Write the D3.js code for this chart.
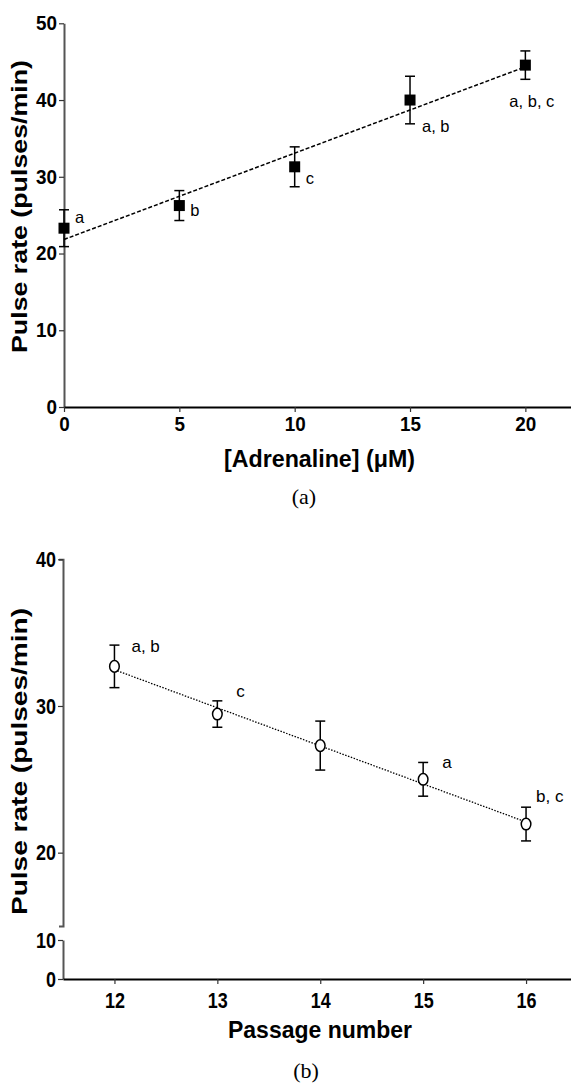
<!DOCTYPE html>
<html>
<head>
<meta charset="utf-8">
<script src="https://cdn.jsdelivr.net/npm/d3@7"></script>
<style>
  body { margin: 0; background: #fff; }
  svg { display: block; }
  .tick text { font-family: "Liberation Sans", Arial, sans-serif; font-weight: bold; fill: #000; }
</style>
</head>
<body>
<div id="app"></div>
<script>
// panel (a): adrenaline dose response
const adrenalineConc = [0, 5, 10, 15, 20];
const pulseRateA = [23.3, 26.25, 31.3, 40.0, 44.55];
const errorA = [2.4, 1.95, 2.6, 3.1, 1.85];
const lettersA = ["a", "b", "c", "a, b", "a, b, c"];
const xTicksA = [0, 5, 10, 15, 20];
const yTicksA = [0, 10, 20, 30, 40, 50];

// panel (b): passage number
const passageNum = [12, 13, 14, 15, 16];
const pulseRateB = [32.7, 29.45, 27.3, 25.0, 21.95];
const errorB = [1.45, 0.9, 1.67, 1.15, 1.15];
const lettersB = ["a, b", "c", "", "a", "b, c"];
const xTicksB = [12, 13, 14, 15, 16];
const yTicksBUpper = [20, 30, 40];
const yTicksBLower = [0, 10];

const width = 571, height = 1083;
const svg = d3.select('#app').append('svg')
    .attr('width', width).attr('height', height);

const SANS = '"Liberation Sans", Arial, sans-serif';
const SERIF = '"Liberation Serif", "Times New Roman", serif';

const fit = (xs, ys) => {
    const mx = d3.mean(xs), my = d3.mean(ys);
    const sxy = d3.sum(xs, (x, i) => (x - mx) * (ys[i] - my));
    const sxx = d3.sum(xs, x => (x - mx) * (x - mx));
    const slope = sxy / sxx;
    return x => my + slope * (x - mx);
};

// tick labels in the original are tall and narrow
const styleAxis = (g, lineColor, fontSize, charW) => {
    g.select('.domain').attr('stroke', lineColor).attr('stroke-width', 2);
    g.selectAll('.tick line').attr('stroke', '#333').attr('stroke-width', 1.2);
    g.selectAll('.tick text')
        .attr('font-size', fontSize)
        .attr('textLength', function () { return this.textContent.length * charW; })
        .attr('lengthAdjust', 'spacingAndGlyphs');
};

// ---------- panel (a) ----------
const xA = d3.scaleLinear().domain([0, 22]).range([64, 571.5]);
const yA = d3.scaleLinear().domain([0, 50]).range([407, 23.3]);
const gA = svg.append('g');

gA.append('g').attr('transform', `translate(${xA(0)},0)`)
    .call(d3.axisLeft(yA).tickValues(yTicksA).tickFormat(d3.format('d'))
        .tickSize(5).tickSizeOuter(0).tickPadding(2))
    .call(g => styleAxis(g, '#555', 20, 10.5));

gA.append('g').attr('transform', `translate(0,${yA(0)})`)
    .call(d3.axisBottom(xA).tickValues(xTicksA).tickFormat(d3.format('d'))
        .tickSize(5).tickSizeOuter(0).tickPadding(5))
    .call(g => styleAxis(g, '#000', 20, 10.5));

const lineA = fit(adrenalineConc, pulseRateA);
gA.append('line')
    .attr('x1', xA(0)).attr('y1', yA(lineA(0)))
    .attr('x2', xA(20)).attr('y2', yA(lineA(20)))
    .attr('stroke', '#000').attr('stroke-width', 1.5).attr('stroke-dasharray', '4,2');

const dataA = adrenalineConc.map((x, i) => ({ x, y: pulseRateA[i], e: errorA[i], t: lettersA[i] }));
const offA = [[11, -5], [11, 10], [11, 17], [12, 32], [-16, 42]];

const barsA = gA.selectAll('g.bar').data(dataA).join('g').attr('class', 'bar');
barsA.append('line')
    .attr('x1', d => xA(d.x)).attr('x2', d => xA(d.x))
    .attr('y1', d => yA(d.y - d.e)).attr('y2', d => yA(d.y + d.e));
barsA.selectAll('line.cap').data(d => [[d.x, d.y - d.e], [d.x, d.y + d.e]]).join('line')
    .attr('class', 'cap')
    .attr('x1', d => xA(d[0]) - 5).attr('x2', d => xA(d[0]) + 5)
    .attr('y1', d => yA(d[1])).attr('y2', d => yA(d[1]));
barsA.selectAll('line').attr('stroke', '#000').attr('stroke-width', 1.5);
barsA.append('rect')
    .attr('x', d => xA(d.x) - 5.5).attr('y', d => yA(d.y) - 5.5)
    .attr('width', 11).attr('height', 11).attr('fill', '#000');
barsA.append('text')
    .attr('x', (d, i) => xA(d.x) + offA[i][0])
    .attr('y', (d, i) => yA(d.y) + offA[i][1])
    .attr('font-family', SANS).attr('font-size', 16.5)
    .text(d => d.t);

gA.append('text')
    .attr('transform', 'translate(27,206.5) rotate(-90)')
    .attr('text-anchor', 'middle')
    .attr('font-family', SANS).attr('font-weight', 'bold')
    .attr('font-size', 21.5).attr('textLength', 293).attr('lengthAdjust', 'spacingAndGlyphs')
    .text('Pulse rate (pulses/min)');

gA.append('text')
    .attr('x', 319.5).attr('y', 467).attr('text-anchor', 'middle')
    .attr('font-family', SANS).attr('font-weight', 'bold')
    .attr('font-size', 24).attr('textLength', 191).attr('lengthAdjust', 'spacingAndGlyphs')
    .text('[Adrenaline] (\u03BCM)');

gA.append('text')
    .attr('x', 304).attr('y', 504).attr('text-anchor', 'middle')
    .attr('font-family', SERIF).attr('font-size', 22)
    .text('(a)');

// ---------- panel (b) ----------
const xB = d3.scaleLinear().domain([11.5, 16.5]).range([63, 577.5]);
const yB = d3.scaleLinear().domain([15, 40]).range([926, 559.3]);
const yBLow = d3.scaleLinear().domain([0, 10]).range([979, 940]);
const gB = svg.append('g');

gB.append('g').attr('transform', `translate(${xB(11.5)},0)`)
    .call(d3.axisLeft(yB).tickValues(yTicksBUpper).tickFormat(d3.format('d'))
        .tickSize(5).tickSizeOuter(4).tickPadding(2))
    .call(g => styleAxis(g, '#555', 22, 10));

gB.append('g').attr('transform', `translate(${xB(11.5)},0)`)
    .call(d3.axisLeft(yBLow).tickValues(yTicksBLower).tickFormat(d3.format('d'))
        .tickSize(5).tickSizeOuter(0).tickPadding(2))
    .call(g => styleAxis(g, '#555', 22, 10));

gB.append('g').attr('transform', `translate(0,${yBLow(0)})`)
    .call(d3.axisBottom(xB).tickValues(xTicksB).tickFormat(d3.format('d'))
        .tickSize(5).tickSizeOuter(0).tickPadding(8))
    .call(g => styleAxis(g, '#000', 22, 10));

const lineB = fit(passageNum, pulseRateB);
gB.append('line')
    .attr('x1', xB(12)).attr('y1', yB(lineB(12)))
    .attr('x2', xB(16)).attr('y2', yB(lineB(16)))
    .attr('stroke', '#000').attr('stroke-width', 1.3).attr('stroke-dasharray', '1.5,1.5');

const dataB = passageNum.map((x, i) => ({ x, y: pulseRateB[i], e: errorB[i], t: lettersB[i] }));
const offB = [[17, -14], [19, -17], [0, 0], [19, -11], [10, -22]];

const barsB = gB.selectAll('g.bar').data(dataB).join('g').attr('class', 'bar');
barsB.append('line')
    .attr('x1', d => xB(d.x)).attr('x2', d => xB(d.x))
    .attr('y1', d => yB(d.y - d.e)).attr('y2', d => yB(d.y + d.e));
barsB.selectAll('line.cap').data(d => [[d.x, d.y - d.e], [d.x, d.y + d.e]]).join('line')
    .attr('class', 'cap')
    .attr('x1', d => xB(d[0]) - 5).attr('x2', d => xB(d[0]) + 5)
    .attr('y1', d => yB(d[1])).attr('y2', d => yB(d[1]));
barsB.selectAll('line').attr('stroke', '#000').attr('stroke-width', 1.5);
barsB.append('ellipse')
    .attr('cx', d => xB(d.x)).attr('cy', d => yB(d.y))
    .attr('rx', 4.8).attr('ry', 5.8)
    .attr('fill', '#fff').attr('stroke', '#000').attr('stroke-width', 1.5);
barsB.append('text')
    .attr('x', (d, i) => xB(d.x) + offB[i][0])
    .attr('y', (d, i) => yB(d.y) + offB[i][1])
    .attr('font-family', SANS).attr('font-size', 17)
    .text(d => d.t);

gB.append('text')
    .attr('transform', 'translate(27,761.5) rotate(-90)')
    .attr('text-anchor', 'middle')
    .attr('font-family', SANS).attr('font-weight', 'bold')
    .attr('font-size', 21.5).attr('textLength', 307).attr('lengthAdjust', 'spacingAndGlyphs')
    .text('Pulse rate (pulses/min)');

gB.append('text')
    .attr('x', 320).attr('y', 1038).attr('text-anchor', 'middle')
    .attr('font-family', SANS).attr('font-weight', 'bold')
    .attr('font-size', 24).attr('textLength', 184).attr('lengthAdjust', 'spacingAndGlyphs')
    .text('Passage number');

gB.append('text')
    .attr('x', 306).attr('y', 1078).attr('text-anchor', 'middle')
    .attr('font-family', SERIF).attr('font-size', 22)
    .text('(b)');
</script>
</body>
</html>
